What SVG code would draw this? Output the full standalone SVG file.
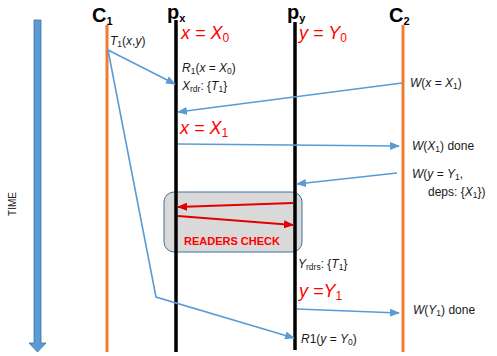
<svg xmlns="http://www.w3.org/2000/svg" width="497" height="356" viewBox="0 0 497 356">
<defs>
<marker id="ab" markerUnits="userSpaceOnUse" markerWidth="10" markerHeight="8" refX="9" refY="4" orient="auto"><path d="M0,0 L10,4 L0,8 Z" fill="#5b9bd5"/></marker>
<marker id="ar" markerUnits="userSpaceOnUse" markerWidth="10" markerHeight="8" refX="9" refY="4" orient="auto"><path d="M0,0 L10,4 L0,8 Z" fill="#e00000"/></marker>
</defs>
<style>
text{font-family:"Liberation Sans",Arial,sans-serif;fill:#1a1a1a}
.lbl{font-size:20px;font-weight:bold;fill:#000}
.sub{font-size:11px}
.t{font-size:12px}
.s{font-size:8.5px}
.it{font-style:italic}
.red{fill:#ff0000;font-size:18px;font-style:italic}
.c{stroke:#ed7d31;stroke-width:3}
.p{stroke:#000;stroke-width:3.5}
.b{stroke:#5b9bd5;stroke-width:1.6;fill:none}
.r{stroke:#e00000;stroke-width:2.2;fill:none}
</style>
<g id="time">
<path d="M34,20 H41 V343 H46 L37.5,352 L29,343 H34 Z" fill="#5b9bd5" stroke="#41719c" stroke-width="0.8"/>
<text x="13" y="204" transform="rotate(-90 13 204)" text-anchor="middle" dominant-baseline="middle" style="font-size:10px">TIME</text>
</g>
<g id="readers-check">
<rect x="164" y="192" width="138" height="60" rx="10" fill="#d9d9d9" stroke="#41719c" stroke-width="1"/>
<text x="232" y="245" text-anchor="middle" style="font-size:11px;font-weight:bold;fill:#ff0000">READERS CHECK</text>
</g>
<g id="C1">
<line class="c" x1="107" y1="25" x2="107" y2="352"/>
<text class="lbl" x="92" y="22">C<tspan class="sub" dy="3">1</tspan></text>
<text class="t" x="110" y="45"><tspan class="it">T</tspan><tspan class="s" dy="2">1</tspan><tspan dy="-2">(</tspan><tspan class="it">x</tspan>,<tspan class="it">y</tspan>)</text>
</g>
<g id="px">
<line class="p" x1="176" y1="20" x2="176" y2="352"/>
<text class="lbl" x="167" y="19">p<tspan class="sub" dy="3">x</tspan></text>
<text class="red" x="181" y="39">x = X<tspan style="font-size:12px" dy="3" font-style="normal">0</tspan></text>
<text class="t" x="182" y="72"><tspan class="it">R</tspan><tspan class="s" dy="2">1</tspan><tspan dy="-2">(</tspan><tspan class="it">x</tspan> = <tspan class="it">X</tspan><tspan class="s" dy="2">0</tspan><tspan dy="-2">)</tspan></text>
<text class="t" x="182" y="90"><tspan class="it">X</tspan><tspan class="s" dy="2">rdr</tspan><tspan dy="-2">: {</tspan><tspan class="it">T</tspan><tspan class="s" dy="2">1</tspan><tspan dy="-2">}</tspan></text>
<text class="red" x="180" y="134">x = X<tspan style="font-size:12px" dy="3" font-style="normal">1</tspan></text>
</g>
<g id="py">
<line class="p" x1="295" y1="22" x2="295" y2="350"/>
<text class="lbl" x="287" y="19">p<tspan class="sub" dy="3">y</tspan></text>
<text class="red" x="299" y="39">y = Y<tspan style="font-size:12px" dy="3" font-style="normal">0</tspan></text>
<text class="t" x="298" y="268"><tspan class="it">Y</tspan><tspan class="s" dy="2">rdrs</tspan><tspan dy="-2">: {</tspan><tspan class="it">T</tspan><tspan class="s" dy="2">1</tspan><tspan dy="-2">}</tspan></text>
<text class="red" x="299" y="297">y =Y<tspan style="font-size:12px" dy="3" font-style="normal">1</tspan></text>
<text class="t" x="301" y="343"><tspan class="it">R</tspan>1(<tspan class="it">y</tspan> = <tspan class="it">Y</tspan><tspan class="s" dy="2">0</tspan><tspan dy="-2">)</tspan></text>
</g>
<g id="C2">
<line class="c" x1="403" y1="25" x2="403" y2="352"/>
<text class="lbl" x="389" y="22">C<tspan class="sub" dy="3">2</tspan></text>
<text class="t" x="410" y="87"><tspan class="it">W</tspan>(<tspan class="it">x</tspan> = <tspan class="it">X</tspan><tspan class="s" dy="2">1</tspan><tspan dy="-2">)</tspan></text>
<text class="t" x="412" y="150"><tspan class="it">W</tspan>(<tspan class="it">X</tspan><tspan class="s" dy="2">1</tspan><tspan dy="-2">) done</tspan></text>
<text class="t" x="412" y="178"><tspan class="it">W</tspan>(<tspan class="it">y</tspan> = <tspan class="it">Y</tspan><tspan class="s" dy="2">1</tspan><tspan dy="-2">,</tspan></text>
<text class="t" x="428" y="196">deps: {<tspan class="it">X</tspan><tspan class="s" dy="2">1</tspan><tspan dy="-2">})</tspan></text>
<text class="t" x="413" y="314"><tspan class="it">W</tspan>(<tspan class="it">Y</tspan><tspan class="s" dy="2">1</tspan><tspan dy="-2">) done</tspan></text>
</g>
<g id="connectors">
<line class="b" x1="108" y1="50" x2="175" y2="84" marker-end="url(#ab)"/>
<polyline class="b" points="108,50 156,297 294,338" marker-end="url(#ab)"/>
<line class="b" x1="402" y1="83" x2="178" y2="112" marker-end="url(#ab)"/>
<line class="b" x1="178" y1="144" x2="399" y2="146" marker-end="url(#ab)"/>
<line class="b" x1="397" y1="173" x2="297" y2="184" marker-end="url(#ab)"/>
<line class="b" x1="297" y1="309" x2="399" y2="313" marker-end="url(#ab)"/>
<line class="r" x1="293" y1="203" x2="178" y2="207" marker-end="url(#ar)"/>
<line class="r" x1="178" y1="216" x2="293" y2="225" marker-end="url(#ar)"/>
</g>
</svg>
